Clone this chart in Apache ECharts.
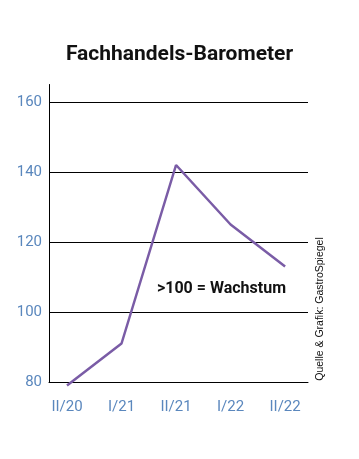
<!DOCTYPE html>
<html>
<head>
<meta charset="utf-8">
<script src="https://cdn.jsdelivr.net/npm/echarts@6/dist/echarts.min.js"></script>
<style>html,body{margin:0;padding:0;background:#fff}#c{width:359px;height:459px}</style>
</head>
<body>
<div id="c"></div>
<script>
const categories = ['II/20', 'I/21', 'II/21', 'I/22', 'II/22'];
const values = [79, 91, 142, 125, 113];
const yTicks = [80, 100, 120, 140, 160];

const chart = echarts.init(document.getElementById('c'), null, {renderer: 'canvas'});
const lineData = values.map((v, i) => [i, v]);
chart.setOption({
  animation: false,
  backgroundColor: '#fff',
  title: {
    text: 'Fachhandels-Barometer',
    left: 'center',
    top: 39,
    textStyle: {fontFamily: 'Roboto', fontWeight: 'bold', fontSize: 21, color: '#111'}
  },
  grid: {left: 49, right: 51, top: 84.5, bottom: 77},
  xAxis: {
    type: 'value',
    min: -0.33,
    max: 4.42,
    axisLine: {show: true, onZero: false, lineStyle: {color: '#000', width: 1}},
    axisTick: {show: false},
    splitLine: {show: false},
    axisLabel: {
      customValues: [0, 1, 2, 3, 4],
      formatter: v => categories[Math.round(v)] || '',
      color: '#5a87bd',
      fontFamily: 'Roboto',
      fontSize: 15,
      margin: 18
    }
  },
  yAxis: {
    type: 'value',
    min: 80,
    max: 165,
    interval: 20,
    axisLine: {show: true, onZero: false, lineStyle: {color: '#000', width: 1}},
    axisTick: {show: false},
    splitLine: {show: true, lineStyle: {color: ['#000', '#000', '#000', '#000', '#000', 'rgba(0,0,0,0)'], width: 1}},
    axisLabel: {
      formatter: v => (yTicks.indexOf(v) >= 0 ? String(v) : ''),
      color: '#5a87bd',
      fontFamily: 'Roboto',
      fontSize: 15,
      margin: 7
    }
  },
  series: [{
    type: 'line',
    data: lineData,
    showSymbol: false,
    clip: false,
    lineStyle: {color: '#7a5ca6', width: 2.5},
    z: 3
  }],
  graphic: [
    {
      type: 'text',
      left: 157,
      top: 281,
      style: {text: '>100 = Wachstum', font: 'bold 16px Roboto', fill: '#111'}
    },
    {
      type: 'text',
      x: 320,
      y: 309,
      rotation: Math.PI / 2,
      style: {text: 'Quelle & Grafik: GastroSpiegel', font: '10.5px "Liberation Sans", Arial', fill: '#111', align: 'center', verticalAlign: 'middle'}
    }
  ]
});
</script>
</body>
</html>
